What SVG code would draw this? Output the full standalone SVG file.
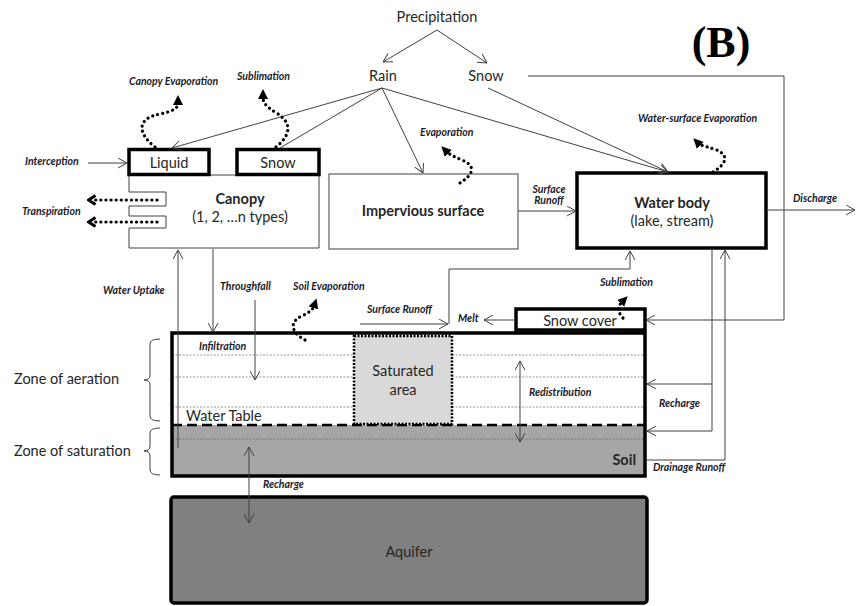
<svg xmlns="http://www.w3.org/2000/svg" width="866" height="606" viewBox="0 0 866 606">
<style>
  .t{font-family:Lato,"Open Sans","Liberation Sans",sans-serif;fill:#262626;font-size:14.5px}
  .b{font-weight:bold}
  .lab{font-family:Lato,"Open Sans","Liberation Sans",sans-serif;fill:#1a1a2a;font-size:10.5px;font-weight:bold;font-style:italic}
  .ln{fill:none;stroke:#404040;stroke-width:1}
  .dot{fill:none;stroke:#000;stroke-width:3.2;stroke-dasharray:0.1 5;stroke-linecap:round}
  .thick{stroke:#000;stroke-width:3.5}
  .grid{stroke:#666;stroke-width:0.7;stroke-dasharray:2 1.5}
</style>
<defs>
  <marker id="oa" viewBox="0 0 10 12" refX="10" refY="6" markerWidth="9" markerHeight="11" orient="auto-start-reverse" markerUnits="userSpaceOnUse">
    <path d="M0,0.5 L10,6 L0,11.5" fill="none" stroke="#404040" stroke-width="1.1"/>
  </marker>
  <marker id="fa" viewBox="0 0 10 10" refX="2" refY="5" markerWidth="10" markerHeight="10" orient="auto" markerUnits="userSpaceOnUse">
    <path d="M0,0 L10,5 L0,10 Z" fill="#000"/>
  </marker>
  <marker id="ch" viewBox="0 0 10 12" refX="2" refY="6" markerWidth="10" markerHeight="12" orient="auto" markerUnits="userSpaceOnUse">
    <path d="M1.5,1.5 L8.5,6 L1.5,10.5" fill="none" stroke="#000" stroke-width="3"/>
  </marker>
</defs>
<rect width="866" height="606" fill="#fff"/>

<text x="721" y="57" font-family="'Liberation Serif',serif" font-weight="bold" font-size="44" text-anchor="middle" fill="#000">(B)</text>

<g id="canopy">
  <path d="M129,175 L129,192 L166,192 L166,206 L129,206 L129,216 L166,216 L166,228 L129,228 L129,248 L319,248 L319,175 Z" fill="#fff" stroke="#404040" stroke-width="1"/>
  <text class="t b" x="240" y="204" text-anchor="middle">Canopy</text>
  <text class="t" x="240" y="222" text-anchor="middle">(1, 2, …n types)</text>
</g>
<g id="liquid">
  <rect x="129" y="149.5" width="80" height="25" fill="#fff" class="thick" stroke-width="3"/>
  <text class="t" x="169" y="168" text-anchor="middle">Liquid</text>
</g>
<g id="canopy-snow">
  <rect x="237" y="149.5" width="82" height="25" fill="#fff" class="thick" stroke-width="3"/>
  <text class="t" x="278" y="168" text-anchor="middle">Snow</text>
</g>
<g id="precipitation">
  <text class="t" x="437" y="22" text-anchor="middle">Precipitation</text>
</g>
<g id="rain">
  <text class="t" x="383" y="81" text-anchor="middle">Rain</text>
</g>
<g id="snow">
  <text class="t" x="486" y="81" text-anchor="middle">Snow</text>
</g>
<g id="impervious">
  <rect x="329" y="174" width="189" height="75" fill="#fff" stroke="#404040" stroke-width="1"/>
  <text class="t b" x="423" y="216" text-anchor="middle">Impervious surface</text>
</g>
<g id="waterbody">
  <rect x="577" y="173" width="189" height="75" fill="#fff" class="thick"/>
  <text class="t b" x="672" y="208" text-anchor="middle">Water body</text>
  <text class="t" x="672" y="226" text-anchor="middle">(lake, stream)</text>
</g>
<g id="soil">
  <rect x="172" y="333" width="473" height="92" fill="#fff"/>
  <rect x="172" y="425" width="473" height="51" fill="#a6a6a6"/>
  <line class="grid" x1="172" y1="355" x2="645" y2="355"/>
  <line class="grid" x1="172" y1="377" x2="645" y2="377"/>
  <line class="grid" x1="172" y1="407" x2="645" y2="407"/>
  <line class="grid" x1="172" y1="439" x2="645" y2="439"/>
  <line x1="172" y1="425" x2="645" y2="425" stroke="#000" stroke-width="2.5" stroke-dasharray="10 5"/>
  <rect x="172" y="333" width="473" height="143" fill="none" class="thick"/>
  <text class="t" x="186" y="421" font-size="15.5">Water Table</text>
  <text class="t b" x="636" y="465" text-anchor="end">Soil</text>
</g>
<g id="saturated">
  <rect x="354" y="336" width="98" height="88" fill="#d9d9d9" stroke="#000" stroke-width="2.5" stroke-dasharray="2 1.5"/>
  <text class="t" x="403" y="376" text-anchor="middle">Saturated</text>
  <text class="t" x="403" y="395" text-anchor="middle">area</text>
</g>
<g id="snowcover">
  <rect x="516" y="309" width="129" height="21" fill="#fff" class="thick" stroke-width="3"/>
  <text class="t" x="580" y="326" text-anchor="middle">Snow cover</text>
</g>
<g id="aquifer">
  <rect x="171" y="497" width="476" height="106" rx="3" fill="#808080" class="thick"/>
  <text class="t" x="409" y="557" text-anchor="middle" font-size="15.5">Aquifer</text>
</g>
<g id="zones">
  <path d="M160,339 Q150,339 150,344 L150,375 Q150,380 144,380 Q150,380 150,385 L150,416 Q150,421 160,421" fill="none" stroke="#404040" stroke-width="1"/>
  <path d="M160,428 Q150,428 150,433 L150,446 Q150,451 144,451 Q150,451 150,456 L150,470 Q150,475 160,475" fill="none" stroke="#404040" stroke-width="1"/>
  <text class="t" x="14" y="384" font-size="15.5">Zone of aeration</text>
  <text class="t" x="14" y="456" font-size="15.5">Zone of saturation</text>
</g>

<g id="connectors">
  <line class="ln" x1="437" y1="30" x2="383" y2="62" marker-end="url(#oa)"/>
  <line class="ln" x1="437" y1="30" x2="487" y2="63" marker-end="url(#oa)"/>
  <line class="ln" x1="382" y1="88" x2="172" y2="148" marker-end="url(#oa)"/>
  <line class="ln" x1="382" y1="88" x2="280" y2="148"/>
  <line class="ln" x1="382" y1="88" x2="423" y2="173" marker-end="url(#oa)"/>
  <line class="ln" x1="382" y1="88" x2="668" y2="172" marker-end="url(#oa)"/>
  <line class="ln" x1="488" y1="88" x2="668" y2="172" marker-end="url(#oa)"/>
  <polyline class="ln" points="528,76 784,76 784,320 646,320" marker-end="url(#oa)"/>
  <line class="ln" x1="88" y1="163" x2="127" y2="163" marker-end="url(#oa)"/>
  <line class="ln" x1="518" y1="211" x2="576" y2="211" marker-end="url(#oa)"/>
  <line class="ln" x1="766" y1="210" x2="855" y2="210" marker-end="url(#oa)"/>
  <line class="ln" x1="178" y1="448" x2="178" y2="250" marker-end="url(#oa)"/>
  <line class="ln" x1="213" y1="249" x2="213" y2="332" marker-end="url(#oa)"/>
  <line class="ln" x1="255" y1="300" x2="255" y2="380" marker-end="url(#oa)"/>
  <line class="ln" x1="360" y1="324" x2="448" y2="324" marker-end="url(#oa)"/>
  <polyline class="ln" points="449,324 449,269 630,269 630,251" marker-end="url(#oa)"/>
  <line class="ln" x1="516" y1="320" x2="484" y2="320" marker-end="url(#oa)"/>
  <polyline class="ln" points="712,248 712,431 647,431" marker-end="url(#oa)"/>
  <line class="ln" x1="712" y1="384" x2="647" y2="384" marker-end="url(#oa)"/>
  <polyline class="ln" points="646,460 725,460 725,250" marker-end="url(#oa)"/>
  <line class="ln" x1="520" y1="361" x2="520" y2="442" marker-start="url(#oa)" marker-end="url(#oa)"/>
  <line class="ln" x1="249" y1="447" x2="249" y2="523" marker-start="url(#oa)" marker-end="url(#oa)"/>
  <path class="dot" d="M155,147 C136,132 138,118 160,114 C174,111 178,108 178,103" marker-end="url(#fa)"/>
  <path class="dot" d="M276,147 C292,134 292,122 275,112 C265,106 263,102 263,97" marker-end="url(#fa)"/>
  <path class="dot" d="M460,183 C474,174 476,166 462,160 C452,156 448,153 447,152" marker-end="url(#fa)"/>
  <path class="dot" d="M713,172 C728,163 729,154 714,149 C704,146 700,145 699,144" marker-end="url(#fa)"/>
  <path class="dot" d="M305,340 C292,333 288,322 302,316 C310,312 313,309 314,306" marker-end="url(#fa)"/>
  <path class="dot" d="M623,318 C617,312 618,306 622,302" marker-end="url(#fa)"/>
  <line class="dot" x1="157" y1="200" x2="95" y2="200" marker-end="url(#ch)"/>
  <line class="dot" x1="157" y1="222" x2="95" y2="222" marker-end="url(#ch)"/>
</g>

<g id="labels">
  <text class="lab" x="129" y="85">Canopy Evaporation</text>
  <text class="lab" x="237" y="80">Sublimation</text>
  <text class="lab" x="25" y="165">Interception</text>
  <text class="lab" x="22" y="215">Transpiration</text>
  <text class="lab" x="420" y="136">Evaporation</text>
  <text class="lab" x="549" y="193" text-anchor="middle">Surface</text>
  <text class="lab" x="549" y="204" text-anchor="middle">Runoff</text>
  <text class="lab" x="638" y="122">Water-surface Evaporation</text>
  <text class="lab" x="793" y="202">Discharge</text>
  <text class="lab" x="103" y="294">Water Uptake</text>
  <text class="lab" x="220" y="290">Throughfall</text>
  <text class="lab" x="293" y="290">Soil Evaporation</text>
  <text class="lab" x="367" y="313">Surface Runoff</text>
  <text class="lab" x="458" y="322">Melt</text>
  <text class="lab" x="600" y="286">Sublimation</text>
  <text class="lab" x="199" y="350">Infiltration</text>
  <text class="lab" x="529" y="396">Redistribution</text>
  <text class="lab" x="659" y="407">Recharge</text>
  <text class="lab" x="653" y="471">Drainage Runoff</text>
  <text class="lab" x="263" y="488">Recharge</text>
</g>
</svg>
